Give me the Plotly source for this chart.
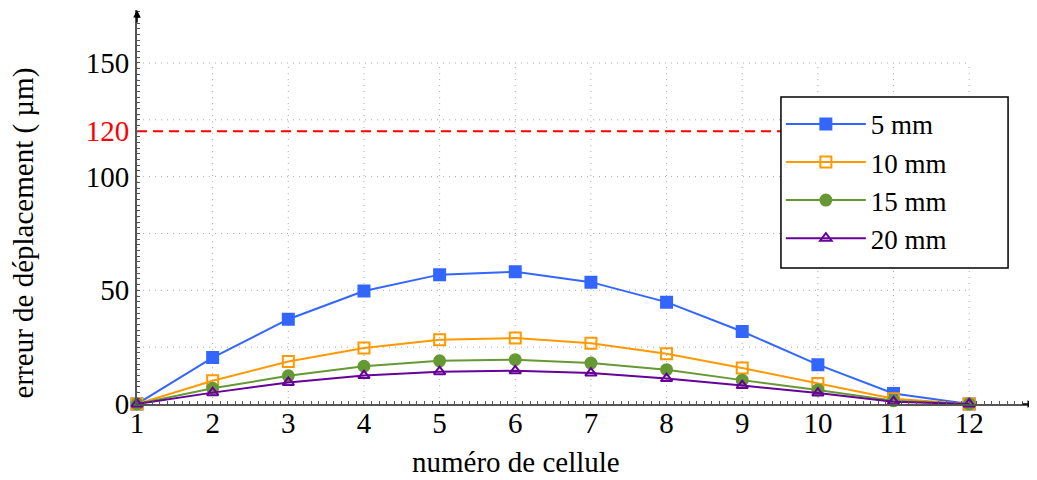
import plotly.graph_objects as go

cells = [1, 2, 3, 4, 5, 6, 7, 8, 9, 10, 11, 12]
err_5mm = [0, 20.4, 37.3, 49.7, 56.9, 58.2, 53.6, 44.8, 31.9, 17.3, 4.6, 0]
err_10mm = [0, 10.2, 18.7, 24.6, 28.3, 29.0, 26.7, 22.1, 15.8, 9.0, 2.3, 0]
err_15mm = [0, 6.9, 12.4, 16.6, 19.0, 19.5, 18.0, 15.1, 10.5, 6.2, 1.4, 0]
err_20mm = [0, 5.0, 9.5, 12.5, 14.2, 14.6, 13.6, 11.2, 8.1, 4.8, 1.0, 0]
series_names = ["5 mm", "10 mm", "15 mm", "20 mm"]

limit_value = 120
y_tick_vals = [0, 50, 100, 120, 150]
y_tick_text = ["0", "50", "100", "<span style='color:red'>120</span>", "150"]
y_grid_vals = [25, 50, 75, 100, 125, 150]
x_grid_vals = cells
x_title = "numéro de cellule"
y_title = "erreur de déplacement ( µm)"

FONT = "Liberation Serif, Times New Roman, serif"
FS = 29
AXIS_COL = "#555555"
X_MAX = 12.87
Y_MAX = 173.3

styles = [
    dict(color="rgb(51,102,255)", symbol="square", size=11),
    dict(color="rgb(255,153,0)", symbol="square-open", size=11),
    dict(color="rgb(102,153,51)", symbol="circle", size=11),
    dict(color="rgb(102,0,153)", symbol="triangle-up-open", size=10),
]

fig = go.Figure()
for name, vals, st in zip(series_names, [err_5mm, err_10mm, err_15mm, err_20mm], styles):
    fig.add_trace(go.Scatter(
        x=cells, y=vals, name=name, mode="lines+markers",
        line=dict(color=st["color"], width=2),
        marker=dict(color=st["color"], symbol=st["symbol"], size=st["size"],
                    line=dict(color=st["color"], width=2)),
        cliponaxis=False,
    ))

shapes = []
for gy in y_grid_vals:
    shapes.append(dict(type="line", xref="x", yref="y", x0=cells[0], x1=cells[-1], y0=gy, y1=gy,
                       line=dict(color="#aaaaaa", width=1, dash="1px,5px"), layer="below"))
for gx in x_grid_vals:
    shapes.append(dict(type="line", xref="x", yref="y", x0=gx, x1=gx, y0=0, y1=y_grid_vals[-1],
                       line=dict(color="#aaaaaa", width=1, dash="1px,5px"), layer="below"))
shapes.append(dict(type="line", xref="x", yref="y", x0=cells[0], x1=cells[-1],
                   y0=limit_value, y1=limit_value,
                   line=dict(color="red", width=2, dash="10px,6px"), layer="below"))
# legend frame
shapes.append(dict(type="rect", xref="paper", yref="paper", x0=0.7171, x1=0.970, y0=0.345, y1=0.779,
                   fillcolor="white", line=dict(color="black", width=1.5), layer="above"))

annotations = [
    dict(x=X_MAX, y=0, xref="x", yref="y", ax=-14, ay=0, text="", showarrow=True,
         arrowhead=2, arrowsize=1, arrowwidth=1.5, arrowcolor="black"),
    dict(x=1, y=Y_MAX, xref="x", yref="y", ax=0, ay=14, text="", showarrow=True,
         arrowhead=2, arrowsize=1, arrowwidth=1.5, arrowcolor="black"),
    dict(x=0.422, y=-0.147, xref="paper", yref="paper", text=x_title, showarrow=False,
         xanchor="center", yanchor="middle", font=dict(family=FONT, size=FS, color="black")),
    dict(x=-0.1265, y=0.434, xref="paper", yref="paper", text=y_title, showarrow=False,
         textangle=-90, xanchor="center", yanchor="middle",
         font=dict(family=FONT, size=FS, color="black")),
]

fig.update_layout(
    width=1037, height=480,
    margin=dict(l=129, r=10, t=2, b=84, autoexpand=False),
    paper_bgcolor="white", plot_bgcolor="white",
    font=dict(family=FONT, size=FS, color="black"),
    shapes=shapes, annotations=annotations,
    showlegend=True,
    legend=dict(x=0.717, y=0.772, xanchor="left", yanchor="top",
                bgcolor="rgba(0,0,0,0)", borderwidth=0,
                font=dict(family=FONT, size=27, color="black"),
                itemwidth=80, tracegroupgap=0),
)
fig.update_xaxes(range=[1, X_MAX], showgrid=False, zeroline=False, automargin=False,
                 showline=True, linecolor=AXIS_COL, linewidth=2,
                 tickvals=cells, ticktext=[str(c) for c in cells], ticks="", ticklen=0,
                 ticklabelstandoff=-8,
                 tickfont=dict(family=FONT, size=FS, color="black"),
                 minor=dict(ticks="inside", ticklen=3, tickcolor=AXIS_COL, dtick=0.1, showgrid=False))
fig.update_yaxes(range=[0, Y_MAX], showgrid=False, zeroline=False, automargin=False,
                 showline=True, linecolor=AXIS_COL, linewidth=2,
                 tickvals=y_tick_vals, ticktext=y_tick_text, ticks="", ticklen=0,
                 ticklabelstandoff=0,
                 tickfont=dict(family=FONT, size=FS, color="black"),
                 minor=dict(ticks="inside", ticklen=3, tickcolor=AXIS_COL, dtick=2.5, showgrid=False))

fig.write_html("out.html")
